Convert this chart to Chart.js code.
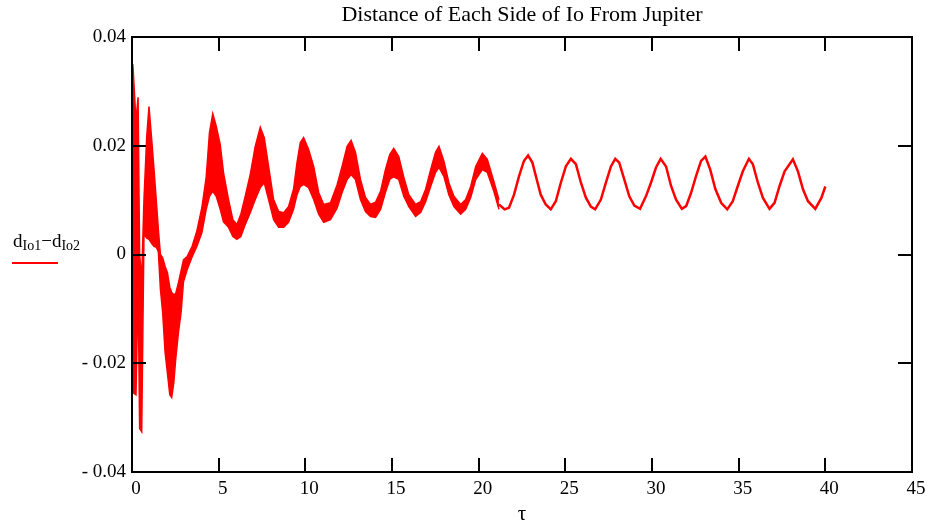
<!DOCTYPE html>
<html>
<head>
<meta charset="utf-8">
<title>Distance of Each Side of Io From Jupiter</title>
<script src="https://cdn.jsdelivr.net/npm/chart.js@4.4.1/dist/chart.umd.min.js"></script>
<style>
  html, body { margin: 0; padding: 0; background: #ffffff; }
  #chartBox { width: 928px; height: 525px; }
</style>
</head>
<body>
<div id="chartBox"><canvas id="myChart" width="928" height="525"></canvas></div>
<script>
// band part (fast oscillation shown as an upper / lower envelope)
const tauBand = [0.05, 0.23, 0.35, 0.44, 0.56, 0.69, 0.85, 0.98, 1.14, 1.27, 1.41, 1.52, 1.64, 1.77, 1.91,
  2.04, 2.18, 2.29, 2.41, 2.52, 2.68, 2.83, 2.97, 3.18, 3.47, 3.74, 4.03, 4.28, 4.47, 4.66, 4.86, 5.09,
  5.28, 5.57, 5.82, 6.05, 6.28, 6.53, 6.82, 7.11, 7.4, 7.63, 7.88, 8.17, 8.46, 8.75, 9.03, 9.32, 9.52,
  9.71, 9.9, 10.19, 10.48, 10.77, 11.06, 11.45, 11.83, 12.12, 12.41, 12.64, 12.89, 13.18, 13.47, 13.76,
  14.05, 14.34, 14.62, 14.87, 15.1, 15.39, 15.68, 15.97, 16.36, 16.65, 16.94, 17.23, 17.51, 17.71, 18.0,
  18.28, 18.57, 18.96, 19.25, 19.54, 19.83, 20.21, 20.5, 20.88, 21.17];
const upperBand = [0.035, 0.0245, 0.0289, 0.0, -0.0046, 0.010, 0.0217, 0.0272, 0.021, 0.0156, 0.0096, 0.0046,
  0.0, -0.0006, -0.0022, -0.0033, -0.006, -0.007, -0.0074, -0.0072, -0.0052, -0.003, -0.001, -0.0004,
  0.0015, 0.0043, 0.0086, 0.0142, 0.0224, 0.0259, 0.0236, 0.0202, 0.015, 0.0101, 0.0064, 0.0055, 0.0074,
  0.0107, 0.0147, 0.0199, 0.0234, 0.0215, 0.0162, 0.0101, 0.0079, 0.0077, 0.0088, 0.012, 0.0169, 0.0206,
  0.0215, 0.0193, 0.0162, 0.0114, 0.0092, 0.0095, 0.0128, 0.0162, 0.0199, 0.021, 0.0188, 0.0138, 0.0105,
  0.0092, 0.0096, 0.0116, 0.0156, 0.0184, 0.0195, 0.018, 0.0142, 0.011, 0.0092, 0.0097, 0.012, 0.0156,
  0.0188, 0.0199, 0.0171, 0.0132, 0.0107, 0.0092, 0.0101, 0.0125, 0.0162, 0.0186, 0.0175, 0.0134, 0.0101];
const lowerBand = [-0.0254, -0.0258, -0.005, -0.032, -0.0326, 0.0037, 0.003, 0.0028, 0.002, 0.0015, 0.0013,
  0.0005, -0.0064, -0.0107, -0.018, -0.0217, -0.0258, -0.0263, -0.0236, -0.0193, -0.0143, -0.0107, -0.005,
  -0.0028, -0.0004, 0.0015, 0.004, 0.0083, 0.0107, 0.0116, 0.0107, 0.0083, 0.006, 0.005, 0.0033, 0.0028,
  0.0033, 0.0055, 0.0077, 0.0101, 0.0123, 0.0132, 0.0101, 0.0064, 0.005, 0.005, 0.0059, 0.0083, 0.011,
  0.0125, 0.0129, 0.0123, 0.0101, 0.0074, 0.0059, 0.0064, 0.0085, 0.0114, 0.0138, 0.0147, 0.0138, 0.0101,
  0.0079, 0.007, 0.0068, 0.0083, 0.0114, 0.0138, 0.0143, 0.0138, 0.0107, 0.0088, 0.007, 0.0077, 0.0097,
  0.0125, 0.0151, 0.016, 0.0143, 0.011, 0.0088, 0.0074, 0.0083, 0.0105, 0.0138, 0.0156, 0.0151, 0.0116, 0.0083];

// later part, a single thin line
const tauLate = [21.17, 21.5, 21.75, 22.04, 22.33, 22.61, 22.85, 23.1, 23.35, 23.58, 23.87, 24.16, 24.45,
  24.74, 25.03, 25.32, 25.61, 25.9, 26.18, 26.47, 26.72, 27.05, 27.34, 27.63, 27.88, 28.11, 28.4, 28.69,
  28.98, 29.31, 29.65, 29.94, 30.23, 30.5, 30.81, 31.1, 31.39, 31.72, 31.97, 32.25, 32.54, 32.83, 33.08,
  33.36, 33.66, 33.99, 34.34, 34.66, 34.95, 35.24, 35.59, 35.82, 36.11, 36.4, 36.78, 37.07, 37.36, 37.65,
  38.13, 38.42, 38.71, 39.0, 39.42, 39.77, 40.0];
const valueLate = [0.0092, 0.0083, 0.0086, 0.011, 0.0144, 0.0172, 0.0182, 0.0169, 0.0138, 0.011, 0.0092,
  0.0083, 0.0098, 0.0132, 0.0162, 0.0176, 0.0166, 0.0132, 0.0105, 0.0088, 0.0083, 0.0101, 0.0132, 0.0162,
  0.0176, 0.0169, 0.0138, 0.0107, 0.009, 0.0084, 0.0107, 0.0132, 0.016, 0.0176, 0.0162, 0.0126, 0.0101,
  0.0084, 0.0089, 0.0113, 0.0144, 0.0172, 0.018, 0.0156, 0.012, 0.0095, 0.0083, 0.0098, 0.0126, 0.0153,
  0.0176, 0.0166, 0.0132, 0.0104, 0.0084, 0.0095, 0.0126, 0.0153, 0.0175, 0.0153, 0.012, 0.0098, 0.0084,
  0.0104, 0.0125];

const xTicks = [0, 5, 10, 15, 20, 25, 30, 35, 40, 45];
const yTicks = [-0.04, -0.02, 0, 0.02, 0.04];

const RED = "#ff0000";
const SERIF = "'Liberation Serif', 'Times New Roman', serif";

function toPoints(xs, ys) {
  return xs.map((x, i) => ({ x: x, y: ys[i] }));
}

function yLabel(v) {
  if (Math.abs(v) < 1e-9) return "0";
  if (v < 0) return "- " + Math.abs(v).toFixed(2);
  return v.toFixed(2);
}

// frame, inward tick marks and the y-axis label with its legend line
const framePlugin = {
  id: "framePlugin",
  afterDatasetsDraw(chart) {
    const ctx = chart.ctx;
    const area = chart.chartArea;
    const xs = chart.scales.x;
    const ys = chart.scales.y;
    const len = 14;
    ctx.save();
    ctx.strokeStyle = "#000000";
    ctx.lineWidth = 2;
    ctx.strokeRect(area.left, area.top, area.right - area.left, area.bottom - area.top);
    ctx.beginPath();
    xTicks.forEach((t) => {
      const px = Math.round(xs.getPixelForValue(t));
      ctx.moveTo(px, area.bottom);
      ctx.lineTo(px, area.bottom - len);
      ctx.moveTo(px, area.top);
      ctx.lineTo(px, area.top + len);
    });
    yTicks.forEach((t) => {
      const py = Math.round(ys.getPixelForValue(t));
      ctx.moveTo(area.left, py);
      ctx.lineTo(area.left + len, py);
      ctx.moveTo(area.right, py);
      ctx.lineTo(area.right - len, py);
    });
    ctx.stroke();
    ctx.restore();
  },
  afterDraw(chart) {
    const ctx = chart.ctx;
    ctx.save();
    ctx.fillStyle = "#000000";
    ctx.textBaseline = "alphabetic";
    let x = 13;
    const base = 247;
    const parts = [
      ["d", 19, 0],
      ["Io1", 14, 3],
      ["\u2212", 19, 0],
      ["d", 19, 0],
      ["Io2", 14, 3],
    ];
    parts.forEach((p) => {
      ctx.font = p[1] + "px " + SERIF;
      ctx.fillText(p[0], x, base + p[2]);
      x += ctx.measureText(p[0]).width;
    });
    ctx.strokeStyle = RED;
    ctx.lineWidth = 2;
    ctx.beginPath();
    ctx.moveTo(12, 263);
    ctx.lineTo(58, 263);
    ctx.stroke();
    ctx.restore();
  },
};

const ctx = document.getElementById("myChart");
new Chart(ctx, {
  type: "line",
  data: {
    datasets: [
      {
        label: "upper",
        data: toPoints(tauBand, upperBand),
        borderColor: RED,
        backgroundColor: RED,
        borderWidth: 1.5,
        pointRadius: 0,
        tension: 0,
        fill: "+1",
      },
      {
        label: "lower",
        data: toPoints(tauBand, lowerBand),
        borderColor: RED,
        backgroundColor: RED,
        borderWidth: 1.5,
        pointRadius: 0,
        tension: 0,
        fill: false,
      },
      {
        label: "dIo1 - dIo2",
        data: toPoints(tauLate, valueLate),
        borderColor: RED,
        borderWidth: 2.5,
        pointRadius: 0,
        tension: 0,
        fill: false,
      },
    ],
  },
  options: {
    responsive: false,
    animation: false,
    devicePixelRatio: 1,
    layout: { padding: { left: 0, right: 16, top: 0, bottom: 0 } },
    plugins: {
      legend: { display: false },
      tooltip: { enabled: false },
      title: {
        display: true,
        fullSize: false,
        text: "Distance of Each Side of Io From Jupiter",
        color: "#000000",
        font: { family: SERIF, size: 22, weight: "normal", lineHeight: 1.2 },
        padding: { top: 2, bottom: 8.6 },
      },
    },
    scales: {
      x: {
        type: "linear",
        min: 0,
        max: 45,
        afterFit: (s) => { s.height = 53; },
        afterBuildTicks: (s) => { s.ticks = xTicks.map((v) => ({ value: v })); },
        grid: { display: false, drawTicks: false },
        border: { display: false },
        ticks: {
          color: "#000000",
          font: { family: SERIF, size: 19 },
          padding: 6,
          labelOffset: 4,
          maxRotation: 0,
          callback: (v) => String(v),
        },
        title: {
          display: true,
          text: "\u03c4",
          color: "#000000",
          font: { family: SERIF, size: 21, lineHeight: 1.0 },
          padding: { top: 0, bottom: 0 },
        },
      },
      y: {
        type: "linear",
        min: -0.04,
        max: 0.04,
        afterFit: (s) => { s.width = 132; },
        afterBuildTicks: (s) => { s.ticks = yTicks.map((v) => ({ value: v })); },
        grid: { display: false, drawTicks: false },
        border: { display: false },
        ticks: {
          color: "#000000",
          font: { family: SERIF, size: 19 },
          padding: 6,
          callback: (v) => yLabel(v),
        },
      },
    },
  },
  plugins: [framePlugin],
});
</script>
</body>
</html>
